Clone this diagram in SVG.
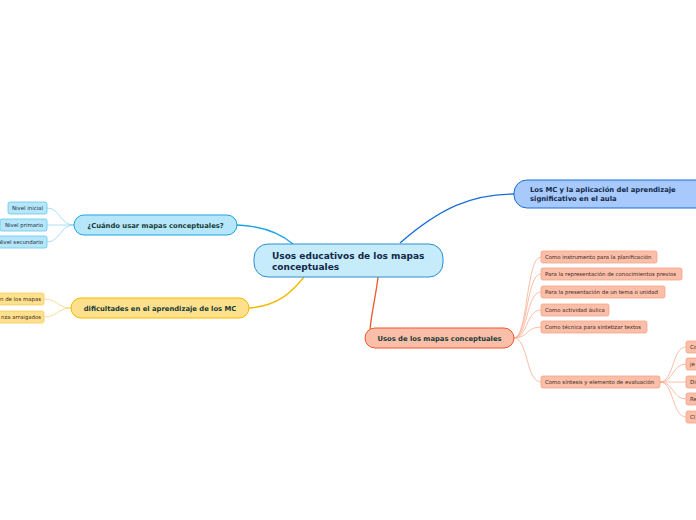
<svg xmlns="http://www.w3.org/2000/svg" width="696" height="520" viewBox="0 0 696 520">
<style>
text{font-family:"DejaVu Sans","Verdana",sans-serif}
.main{font-size:9px;font-weight:bold;fill:#10284a}
.br{font-size:6.8px;font-weight:bold;fill:#173b36}
.lf{font-size:5.4px;fill:#3a2a24}
.lfb{font-size:5.4px;fill:#1d2f3a}
.bl{fill:#b6e6fa;stroke:#1aa3e6;stroke-width:1}
.bll{fill:#b6e6fa;stroke:#63c6f0;stroke-width:0.8}
.ye{fill:#ffe08c;stroke:#f6b900;stroke-width:1}
.yel{fill:#ffe08c;stroke:#f7cb5a;stroke-width:0.8}
.re{fill:#fbbea8;stroke:#f0542a;stroke-width:1}
.rel{fill:#fbbea8;stroke:#f7a283;stroke-width:0.8}
</style>
<g id="connectors">
<path d="M237,225 C262,226 280,233 293,244" stroke="#1aa3e6" stroke-width="1.3" fill="none"/>
<path d="M400,243 C440,208 472,194 514,194" stroke="#1a6fd6" stroke-width="1.3" fill="none"/>
<path d="M249,308 C278,306 292,292 304,277" stroke="#f6b900" stroke-width="1.3" fill="none"/>
<path d="M378,277 C376,295 372,310 370,329" stroke="#f0542a" stroke-width="1.3" fill="none"/>
<g stroke="#8fd6f3" stroke-width="0.8" fill="none">
<path d="M74,225 C60,225 60,208 47,208"/>
<path d="M74,225 C60,225 60,225 47,225"/>
<path d="M74,225 C60,225 60,242 47,242"/>
</g>
<g stroke="#f9d27a" stroke-width="0.8" fill="none">
<path d="M71,308 C57,308 58,299 44,299"/>
<path d="M71,308 C57,308 58,317 44,317"/>
</g>
<g stroke="#f9ad92" stroke-width="0.8" fill="none">
<path d="M514,338 C528,338 526,257 541,257"/>
<path d="M514,338 C528,338 526,274 541,274"/>
<path d="M514,338 C528,338 526,292 541,292"/>
<path d="M514,338 C528,338 526,310 541,310"/>
<path d="M514,338 C528,338 526,327 541,327"/>
<path d="M514,338 C528,338 526,382 541,382"/>
<path d="M660,382 C674,382 672,347 686,347"/>
<path d="M660,382 C674,382 672,364 686,364"/>
<path d="M660,382 C674,382 672,382 686,382"/>
<path d="M660,382 C674,382 672,399 686,399"/>
<path d="M660,382 C674,382 672,417 686,417"/>
</g>
</g>
<g id="central">
<rect x="254" y="244" width="189" height="33" rx="14" fill="#c6ebfb" stroke="#2a8ed4" stroke-width="1"/>
<text class="main" x="272" y="259">Usos educativos de los mapas</text>
<text class="main" x="272" y="270">conceptuales</text>
</g>
<g id="aplicacion">
<rect x="514" y="180" width="210" height="28" rx="13" fill="#a7c9fb" stroke="#1a6fd6" stroke-width="1"/>
<text class="br" x="530" y="192" style="fill:#10284a">Los MC y la aplicación del aprendizaje</text>
<text class="br" x="530" y="201" style="fill:#10284a">significativo en el aula</text>
</g>
<g id="cuando">
<rect class="bl" x="74" y="215" width="163" height="20" rx="10"/>
<text class="br" x="155.5" y="227.5" text-anchor="middle">¿Cuándo usar mapas conceptuales?</text>
</g>
<g id="nivel-inicial"><rect class="bll" x="8" y="202" width="39" height="12" rx="2"/><text class="lfb" x="43" y="210" text-anchor="end">Nivel inicial</text></g>
<g id="nivel-primario"><rect class="bll" x="0" y="219" width="47" height="12" rx="2"/><text class="lfb" x="43" y="227" text-anchor="end">Nivel primario</text></g>
<g id="nivel-secundario"><rect class="bll" x="-10" y="236" width="57" height="12" rx="2"/><text class="lfb" x="43" y="244" text-anchor="end">Nivel secundario</text></g>
<g id="dificultades">
<rect class="ye" x="71" y="298" width="178" height="20" rx="10"/>
<text class="br" x="160" y="310.5" text-anchor="middle">dificultades en el aprendizaje de los MC</text>
</g>
<g id="dif-1"><rect class="yel" x="-10" y="293" width="54" height="12" rx="2"/><text class="lf" x="41" y="301" text-anchor="end">n de los mapas</text></g>
<g id="dif-2"><rect class="yel" x="-10" y="311" width="54" height="12" rx="2"/><text class="lf" x="41" y="319" text-anchor="end">nza arraigados</text></g>
<g id="usos">
<rect class="re" x="365" y="328" width="149" height="20" rx="10"/>
<text class="br" x="439.5" y="340.5" text-anchor="middle">Usos de los mapas conceptuales</text>
</g>
<g id="u1"><rect class="rel" x="541" y="251" width="116" height="12" rx="2"/><text class="lf" x="545" y="259">Como instrumento para la planificación</text></g>
<g id="u2"><rect class="rel" x="541" y="268" width="141" height="12" rx="2"/><text class="lf" x="545" y="276">Para la representación de conocimientos previos</text></g>
<g id="u3"><rect class="rel" x="541" y="286" width="124" height="12" rx="2"/><text class="lf" x="545" y="294">Para la presentación de un tema o unidad</text></g>
<g id="u4"><rect class="rel" x="541" y="304" width="68" height="12" rx="2"/><text class="lf" x="545" y="312">Como actividad áulica</text></g>
<g id="u5"><rect class="rel" x="541" y="321" width="106" height="12" rx="2"/><text class="lf" x="545" y="329">Como técnica para sintetizar textos</text></g>
<g id="u6"><rect class="rel" x="541" y="376" width="119" height="12" rx="2"/><text class="lf" x="545" y="384">Como síntesis y elemento de evaluación</text></g>
<g id="s1"><rect class="rel" x="686" y="341" width="30" height="12" rx="2"/><text class="lf" x="690" y="349">Co</text></g>
<g id="s2"><rect class="rel" x="686" y="358" width="30" height="12" rx="2"/><text class="lf" x="690" y="366">je</text></g>
<g id="s3"><rect class="rel" x="686" y="376" width="30" height="12" rx="2"/><text class="lf" x="690" y="384">Di</text></g>
<g id="s4"><rect class="rel" x="686" y="393" width="30" height="12" rx="2"/><text class="lf" x="690" y="401">Re</text></g>
<g id="s5"><rect class="rel" x="686" y="411" width="30" height="12" rx="2"/><text class="lf" x="690" y="419">Cl</text></g>
</svg>
